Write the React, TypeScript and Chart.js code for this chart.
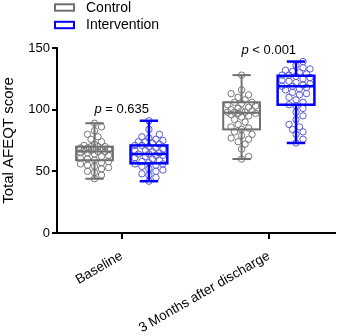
import { useEffect, useRef } from 'react';
import { Chart, registerables } from 'chart.js';

Chart.register(...registerables);

const FONT = "'Liberation Sans', Arial, sans-serif";

const categories = ['Baseline', '3 Months after discharge'];
const groupNames = ['Control', 'Intervention'];
const groupColors = ['#6f6f6f', '#0000ff'];
const pointColors = ['#767676', '#5b5bd6'];

// Individual Total AFEQT scores
const controlBaseline = [44, 47, 49, 50, 52, 53, 54, 55, 56, 57, 58, 59, 60, 61, 62, 63, 64, 65, 65, 66, 66, 67, 67, 68, 68, 68, 69, 69, 70, 70, 70, 71, 72, 74, 76, 78, 80, 83, 86, 89];
const interventionBaseline = [42, 45, 47, 48, 50, 51, 52, 54, 55, 56, 56, 57, 58, 59, 60, 61, 62, 63, 63, 64, 64, 65, 66, 67, 67, 68, 69, 70, 71, 71, 72, 73, 74, 74, 75, 76, 77, 78, 80, 84, 91];
const controlFollowUp = [60, 62, 68, 72, 74, 76, 77, 79, 80, 82, 84, 85, 86, 88, 90, 92, 94, 95, 96, 97, 97, 98, 98, 98, 99, 99, 100, 101, 102, 103, 104, 105, 106, 106, 108, 110, 112, 113, 116, 128];
const interventionFollowUp = [73, 76, 80, 82, 84, 86, 88, 92, 95, 98, 101, 103, 104, 106, 108, 110, 112, 113, 114, 116, 117, 118, 119, 119, 120, 121, 122, 123, 124, 125, 126, 127, 128, 128, 129, 130, 131, 132, 133, 134, 136, 139];

// Five-number summaries [min, Q1, median, Q3, max] per time point
const controlBoxes = [
  [44, 59, 66, 70, 89],
  [60, 84, 97.5, 106, 128],
];
const interventionBoxes = [
  [42, 56.5, 64, 71, 91],
  [73, 104, 119, 127.5, 139],
];

const pLabels = ['= 0.635', '< 0.001'];
const yTicks = [0, 50, 100, 150];

const GROUP_SHIFT = 0.185;
const BOX_WIDTH = 0.25;

const seriesByGroup = [
  [controlBaseline, controlFollowUp],
  [interventionBaseline, interventionFollowUp],
];
const boxesByGroup = [controlBoxes, interventionBoxes];

// Spread points sideways within a band so the circles mostly stay apart (pixel offsets)
function swarmOffsets(values: number[], toPx: (v: number) => number, diam: number, maxOff: number): number[] {
  const order = values.map((_, i) => i).sort((a, b) => values[a] - values[b]);
  const placed: { x: number; y: number }[] = [];
  const out = new Array(values.length).fill(0);
  const step = 3.5;
  const cands: number[] = [0];
  for (let n = 1; n * step <= maxOff; n++) cands.push(n * step, -n * step);
  for (const i of order) {
    const py = toPx(values[i]);
    let best = 0;
    let bestGap = -1;
    for (const c of cands) {
      let gap = Infinity;
      for (const p of placed) gap = Math.min(gap, Math.hypot(p.x - c, p.y - py));
      if (gap >= diam) { best = c; bestGap = gap; break; }
      if (gap > bestGap) { bestGap = gap; best = c; }
    }
    placed.push({ x: best, y: py });
    out[i] = best;
  }
  return out;
}

const boxPlugin = {
  id: 'boxes',
  afterDatasetsDraw(chart: any) {
    const { ctx, scales } = chart;
    const x = scales.x;
    const y = scales.y;
    const yp = (v: number) => y.getPixelForValue(v);
    const line = (x1: number, y1: number, x2: number, y2: number) => {
      ctx.beginPath();
      ctx.moveTo(x1, y1);
      ctx.lineTo(x2, y2);
      ctx.stroke();
    };
    ctx.save();
    boxesByGroup.forEach((boxes, g) => {
      const shift = g === 0 ? -GROUP_SHIFT : GROUP_SHIFT;
      ctx.strokeStyle = groupColors[g];
      ctx.lineWidth = g === 0 ? 2 : 2.5;
      boxes.forEach((stats, c) => {
        const [mn, q1, md, q3, mx] = stats;
        const center = c + shift;
        const cx = x.getPixelForValue(center);
        const half = x.getPixelForValue(center + BOX_WIDTH / 2) - cx;
        ctx.strokeRect(cx - half, yp(q3), 2 * half, yp(q1) - yp(q3));
        line(cx - half, yp(md), cx + half, yp(md));
        line(cx, yp(q3), cx, yp(mx));
        line(cx, yp(q1), cx, yp(mn));
        line(cx - half / 2, yp(mx), cx + half / 2, yp(mx));
        line(cx - half / 2, yp(mn), cx + half / 2, yp(mn));
      });
    });
    ctx.restore();
  },
  afterDraw(chart: any) {
    const { ctx, scales } = chart;
    const x = scales.x;
    const y = scales.y;
    ctx.save();
    // p-values above each pair
    ctx.fillStyle = '#000';
    ctx.textBaseline = 'middle';
    pLabels.forEach((txt, c) => {
      const top = Math.max(controlBoxes[c][4], interventionBoxes[c][4]);
      const cy = y.getPixelForValue(top) - 11;
      const cx = x.getPixelForValue(c);
      ctx.font = `italic 13px ${FONT}`;
      const pW = ctx.measureText('p ').width;
      ctx.font = `13px ${FONT}`;
      const rW = ctx.measureText(txt).width;
      const start = cx - (pW + rW) / 2;
      ctx.textAlign = 'left';
      ctx.font = `italic 13px ${FONT}`;
      ctx.fillText('p ', start, cy);
      ctx.font = `13px ${FONT}`;
      ctx.fillText(txt, start + pW, cy);
    });
    // legend
    ctx.font = `14px ${FONT}`;
    groupNames.forEach((name, g) => {
      const cy = 7.5 + g * 17.5;
      ctx.strokeStyle = groupColors[g];
      ctx.lineWidth = 2;
      ctx.strokeRect(55, cy - 3.2, 19, 6.4);
      ctx.fillStyle = '#000';
      ctx.textAlign = 'left';
      ctx.fillText(name, 86, cy + 0.5);
    });
    ctx.restore();
  },
};

export default function App() {
  const ref = useRef<HTMLCanvasElement>(null);

  useEffect(() => {
    document.body.style.margin = '0';
    const canvas = ref.current;
    if (!canvas) return;

    const datasets = seriesByGroup.map((series, g) => {
      const shift = g === 0 ? -GROUP_SHIFT : GROUP_SHIFT;
      const data: { x: number; y: number }[] = [];
      series.forEach((vals, c) => vals.forEach((v) => data.push({ x: c + shift, y: v })));
      return {
        label: groupNames[g],
        data,
        pointRadius: 3.2,
        pointBorderWidth: 1,
        borderColor: pointColors[g],
        backgroundColor: 'rgba(255,255,255,0)',
        pointBorderColor: pointColors[g],
        pointBackgroundColor: 'rgba(255,255,255,0)',
      };
    });

    const chart = new Chart(canvas, {
      type: 'scatter',
      data: { datasets },
      plugins: [boxPlugin],
      options: {
        responsive: false,
        animation: false,
        layout: { padding: { top: 48, right: 2, left: 0, bottom: 0 } },
        plugins: { legend: { display: false }, tooltip: { enabled: false } },
        scales: {
          x: {
            type: 'linear',
            min: -0.44,
            max: 1.45,
            afterFit: (s: any) => { s.height = 103; },
            afterBuildTicks: (s: any) => { s.ticks = categories.map((_, i) => ({ value: i })); },
            ticks: {
              autoSkip: false,
              maxRotation: 30,
              minRotation: 30,
              padding: 9,
              color: '#000',
              font: { family: FONT, size: 13.5 },
              callback: (v: any) => categories[v as number] ?? '',
            },
            grid: { drawOnChartArea: false, drawTicks: true, tickLength: 6, color: '#000', lineWidth: 2 },
            border: { color: '#000', width: 2 },
          },
          y: {
            min: 0,
            max: 150,
            afterFit: (s: any) => { s.width = 57; },
            afterBuildTicks: (s: any) => { s.ticks = yTicks.map((v) => ({ value: v })); },
            ticks: { color: '#000', padding: 2, font: { family: FONT, size: 13 } },
            title: {
              display: true,
              text: 'Total AFEQT score',
              color: '#000',
              font: { family: FONT, size: 15 },
              padding: { top: 0, bottom: 4 },
            },
            grid: { drawOnChartArea: false, drawTicks: true, tickLength: 5, color: '#000', lineWidth: 2 },
            border: { color: '#000', width: 2 },
          },
        },
      },
    });

    // spread the points horizontally now that the scales are known
    const xs = chart.scales.x;
    const ys = chart.scales.y;
    const pxPerUnit = xs.getPixelForValue(1) - xs.getPixelForValue(0);
    const band = (BOX_WIDTH / 2) * pxPerUnit - 3;
    seriesByGroup.forEach((series, g) => {
      const shift = g === 0 ? -GROUP_SHIFT : GROUP_SHIFT;
      const data: { x: number; y: number }[] = [];
      series.forEach((vals, c) => {
        const offs = swarmOffsets(vals, (v) => ys.getPixelForValue(v), 6, band);
        vals.forEach((v, i) => data.push({ x: c + shift + offs[i] / pxPerUnit, y: v }));
      });
      (chart.data.datasets[g] as any).data = data;
    });
    chart.update();

    return () => chart.destroy();
  }, []);

  return (
    <div style={{ width: 340, height: 336 }}>
      <canvas ref={ref} width={340} height={336} />
    </div>
  );
}
